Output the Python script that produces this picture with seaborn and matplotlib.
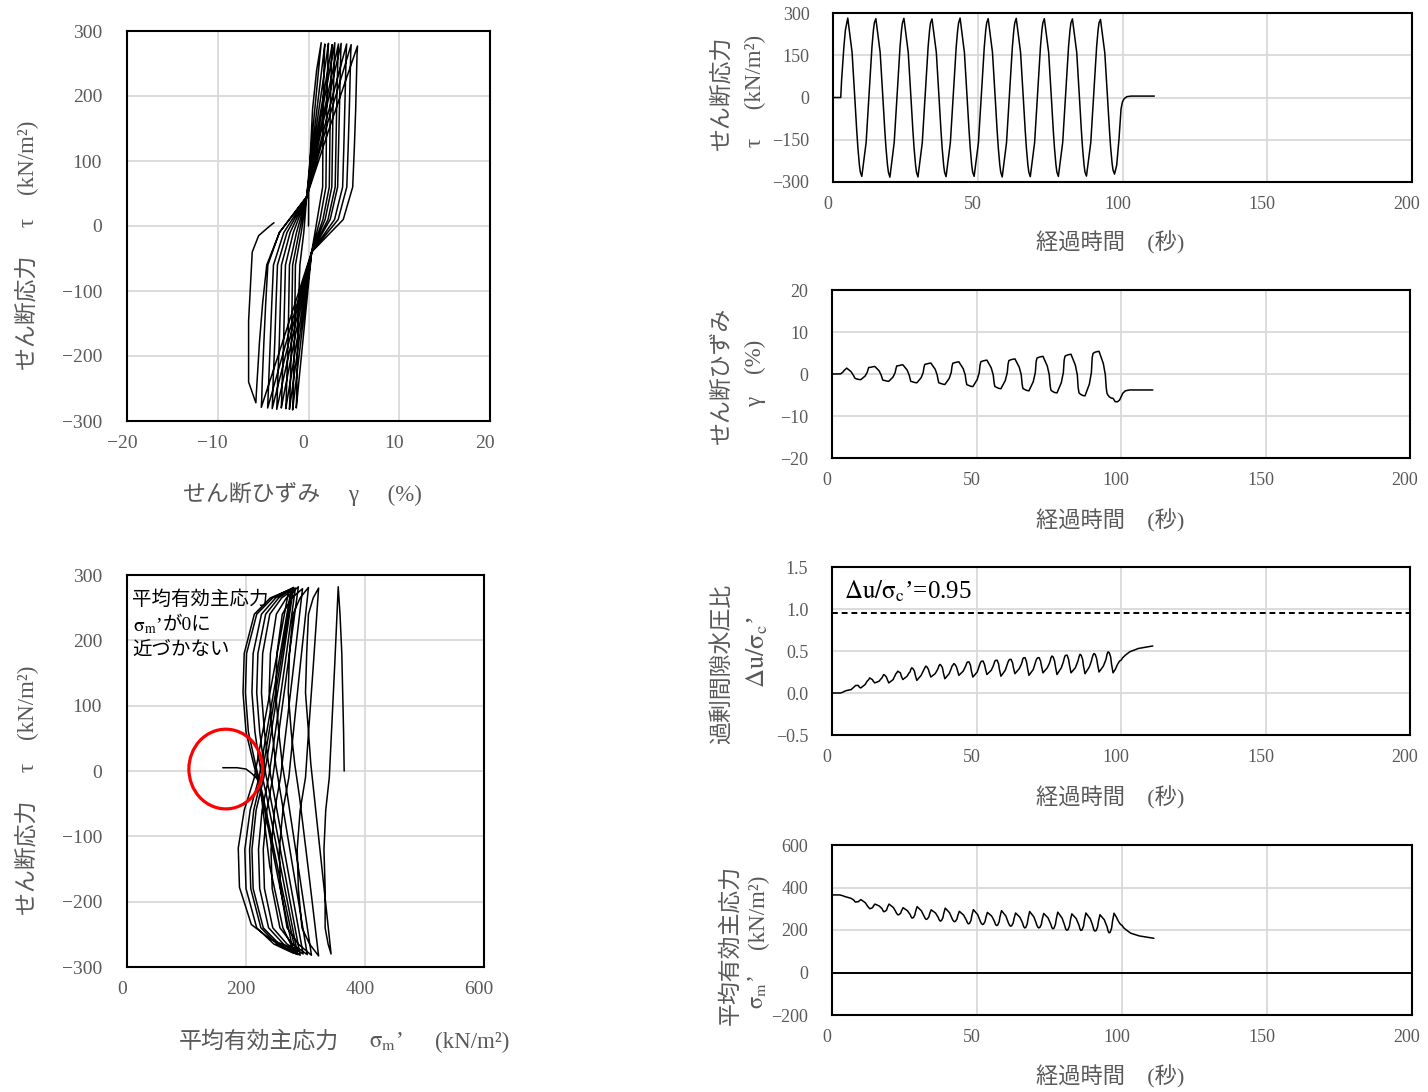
import matplotlib
matplotlib.use("Agg")
import matplotlib.pyplot as plt
from matplotlib.patches import Ellipse
from matplotlib.transforms import ScaledTranslation
import pandas as pd
import seaborn as sns

# ------------------------------------------------------------------
# Data (one sample list shared by all panels)
# ------------------------------------------------------------------
time_s = [
    0.00, 2.68, 2.96, 3.76, 4.29, 5.10,
    6.59, 7.28, 7.58, 7.86, 8.21, 8.61, 9.12, 9.44, 9.95,
    11.44, 12.15, 12.43, 12.71, 13.06, 13.46, 13.97, 14.29, 14.80,
    16.29, 16.98, 17.28, 17.56, 17.91, 18.31, 18.82, 19.14, 19.65,
    21.14, 21.85, 22.13, 22.41, 22.76, 23.16, 23.67, 23.99, 24.50,
    25.99, 26.68, 26.98, 27.26, 27.61, 28.01, 28.52, 28.84, 29.35,
    30.84, 31.55, 31.83, 32.11, 32.46, 32.86, 33.37, 33.69, 34.20,
    35.69, 36.38, 36.68, 36.96, 37.31, 37.71, 38.22, 38.54, 39.05,
    40.54, 41.25, 41.53, 41.81, 42.16, 42.56, 43.07, 43.39, 43.90,
    45.39, 46.08, 46.38, 46.66, 47.01, 47.41, 47.92, 48.24, 48.75,
    50.24, 50.95, 51.23, 51.51, 51.86, 52.26, 52.77, 53.09, 53.60,
    55.09, 55.78, 56.08, 56.36, 56.71, 57.11, 57.62, 57.94, 58.45,
    59.94, 60.65, 60.93, 61.21, 61.56, 61.96, 62.47, 62.79, 63.30,
    64.79, 65.48, 65.78, 66.06, 66.41, 66.81, 67.32, 67.64, 68.15,
    69.64, 70.35, 70.63, 70.91, 71.26, 71.66, 72.17, 72.49, 73.00,
    74.49, 75.18, 75.48, 75.76, 76.11, 76.51, 77.02, 77.34, 77.85,
    79.34, 80.05, 80.33, 80.61, 80.96, 81.36, 81.87, 82.19, 82.70,
    84.19, 84.88, 85.18, 85.46, 85.81, 86.21, 86.72, 87.04, 87.55,
    89.04, 89.75, 90.03, 90.31, 90.66, 91.06, 91.57, 91.89, 92.40,
    93.89, 94.58, 94.88, 95.16, 95.51, 95.91, 96.42, 96.74, 97.25,
    98.00, 98.80, 99.50, 100.00, 100.60, 101.50, 103.00, 106.00, 111.00,
]

# shear stress tau (kN/m2)
tau = [
    0, 0, 60, 180, 240, 282,
    160, 45, -10, -60, -120, -180, -240, -265, -280,
    -160, -40, 10, 60, 120, 180, 240, 265, 280,
    160, 45, -10, -60, -120, -180, -240, -265, -283,
    -160, -40, 10, 60, 120, 180, 240, 265, 281,
    160, 45, -10, -60, -120, -180, -240, -265, -282,
    -160, -40, 10, 60, 120, 180, 240, 265, 279,
    160, 45, -10, -60, -120, -180, -240, -265, -281,
    -160, -40, 10, 60, 120, 180, 240, 265, 282,
    160, 45, -10, -60, -120, -180, -240, -265, -280,
    -160, -40, 10, 60, 120, 180, 240, 265, 280,
    160, 45, -10, -60, -120, -180, -240, -265, -282,
    -160, -40, 10, 60, 120, 180, 240, 265, 281,
    160, 45, -10, -60, -120, -180, -240, -265, -281,
    -160, -40, 10, 60, 120, 180, 240, 265, 280,
    160, 45, -10, -60, -120, -180, -240, -265, -280,
    -160, -40, 10, 60, 120, 180, 240, 265, 279,
    160, 45, -10, -60, -120, -180, -240, -265, -279,
    -160, -40, 10, 60, 120, 180, 240, 265, 277,
    158, 45, -10, -60, -118, -178, -235, -258, -272,
    -240, -146, -40, -15, -4, 3, 5, 5, 5,
]

# shear strain gamma (%)
gamma = [
    0.0, 0.0, 0.02, 0.45, 0.9, 1.4,
    0.56, -0.2, -0.52, -0.95, -1.1, -1.2, -1.27, -1.31, -1.35,
    -0.5, 0.35, 0.95, 1.56, 1.58, 1.6, 1.7, 1.75, 1.8,
    0.76, -0.2, -0.8, -1.44, -1.5, -1.55, -1.65, -1.7, -1.75,
    -0.7, 0.35, 1.27, 1.92, 1.96, 2.0, 2.1, 2.15, 2.2,
    0.95, -0.2, -1.04, -1.75, -1.82, -1.88, -2.0, -2.05, -2.1,
    -0.88, 0.35, 1.59, 2.29, 2.35, 2.4, 2.5, 2.55, 2.6,
    1.14, -0.2, -1.32, -2.1, -2.18, -2.25, -2.4, -2.45, -2.5,
    -1.08, 0.35, 1.83, 2.57, 2.64, 2.7, 2.8, 2.85, 2.9,
    1.28, -0.2, -1.67, -2.54, -2.65, -2.75, -2.9, -2.95, -3.0,
    -1.33, 0.35, 2.15, 2.94, 3.02, 3.1, 3.2, 3.25, 3.3,
    1.47, -0.2, -2.02, -2.98, -3.1, -3.22, -3.4, -3.45, -3.5,
    -1.58, 0.35, 2.39, 3.21, 3.31, 3.4, 3.5, 3.55, 3.6,
    1.62, -0.2, -2.37, -3.42, -3.58, -3.72, -3.9, -3.95, -4.0,
    -1.83, 0.35, 2.87, 3.76, 3.89, 4.0, 4.1, 4.15, 4.2,
    1.90, -0.2, -2.72, -3.86, -4.05, -4.22, -4.4, -4.45, -4.5,
    -2.08, 0.35, 3.27, 4.22, 4.37, 4.5, 4.6, 4.65, 4.7,
    2.14, -0.2, -3.21, -4.48, -4.72, -4.92, -5.1, -5.15, -5.2,
    -2.43, 0.35, 3.83, 4.87, 5.05, 5.2, 5.3, 5.35, 5.4,
    2.48, -0.2, -3.2, -4.6, -5.05, -5.4, -5.65, -5.75, -5.8,
    -6.6, -6.6, -6.2, -5.5, -4.6, -4.0, -3.8, -3.8, -3.8,
]

# mean effective principal stress sigma_m' (kN/m2)
sigma_m = [
    365, 365, 364, 361, 358, 355,
    349, 343, 340, 334, 331, 333, 333, 338, 343,
    329, 315, 309, 305, 300, 302, 305, 313, 322,
    313, 304, 300, 291, 286, 288, 294, 307, 322,
    306, 290, 282, 276, 271, 273, 279, 291, 305,
    291, 278, 272, 262, 256, 258, 269, 288, 310,
    290, 270, 261, 255, 250, 252, 261, 277, 295,
    280, 265, 258, 248, 242, 244, 257, 278, 303,
    281, 259, 250, 244, 239, 241, 251, 268, 288,
    270, 253, 245, 235, 229, 231, 245, 269, 296,
    272, 248, 238, 231, 226, 228, 240, 260, 283,
    265, 247, 238, 227, 221, 223, 238, 263, 291,
    266, 241, 230, 223, 218, 220, 233, 255, 280,
    260, 240, 230, 217, 210, 212, 229, 256, 287,
    261, 235, 223, 215, 210, 212, 226, 250, 278,
    257, 236, 226, 213, 206, 208, 225, 252, 284,
    256, 229, 216, 204, 199, 201, 218, 245, 276,
    254, 232, 222, 207, 198, 200, 218, 247, 280,
    253, 227, 213, 200, 195, 197, 214, 241, 272,
    248, 225, 214, 197, 187, 189, 209, 242, 279,
    262, 240, 226, 222, 210, 200, 185, 172, 161,
]

# excess pore water pressure ratio du/sigma_c'
du_ratio = [
    0.00, 0.00, 0.00, 0.01, 0.02, 0.03,
    0.04, 0.06, 0.07, 0.08, 0.09, 0.09, 0.09, 0.07, 0.06,
    0.10, 0.14, 0.15, 0.16, 0.18, 0.17, 0.16, 0.14, 0.12,
    0.14, 0.17, 0.18, 0.20, 0.22, 0.21, 0.19, 0.16, 0.12,
    0.16, 0.21, 0.23, 0.24, 0.26, 0.25, 0.24, 0.20, 0.16,
    0.20, 0.24, 0.25, 0.28, 0.30, 0.29, 0.26, 0.21, 0.15,
    0.21, 0.26, 0.28, 0.30, 0.32, 0.31, 0.28, 0.24, 0.19,
    0.23, 0.27, 0.29, 0.32, 0.34, 0.33, 0.30, 0.24, 0.17,
    0.23, 0.29, 0.32, 0.33, 0.35, 0.34, 0.31, 0.27, 0.21,
    0.26, 0.31, 0.33, 0.36, 0.37, 0.37, 0.33, 0.26, 0.19,
    0.25, 0.32, 0.35, 0.37, 0.38, 0.38, 0.34, 0.29, 0.22,
    0.27, 0.32, 0.35, 0.38, 0.39, 0.39, 0.35, 0.28, 0.20,
    0.27, 0.34, 0.37, 0.39, 0.40, 0.40, 0.36, 0.30, 0.23,
    0.29, 0.34, 0.37, 0.41, 0.42, 0.42, 0.37, 0.30, 0.21,
    0.28, 0.36, 0.39, 0.41, 0.42, 0.42, 0.38, 0.32, 0.24,
    0.30, 0.35, 0.38, 0.42, 0.44, 0.43, 0.38, 0.31, 0.22,
    0.30, 0.37, 0.41, 0.44, 0.45, 0.45, 0.40, 0.33, 0.24,
    0.30, 0.36, 0.39, 0.43, 0.46, 0.45, 0.40, 0.32, 0.23,
    0.31, 0.38, 0.42, 0.45, 0.47, 0.46, 0.41, 0.34, 0.25,
    0.32, 0.38, 0.41, 0.46, 0.49, 0.48, 0.43, 0.34, 0.24,
    0.28, 0.34, 0.38, 0.39, 0.42, 0.45, 0.49, 0.53, 0.56,
]

du_limit = 0.95  # dashed reference line

# tick values / labels
strain_ticks = [-20, -10, 0, 10, 20]
strain_tick_labels = ["−20", "−10", "0", "10", "20"]
stress_ticks = [-300, -200, -100, 0, 100, 200, 300]
stress_tick_labels = ["−300", "−200", "−100", "0", "100", "200", "300"]
sigma_ticks = [0, 200, 400, 600]
sigma_tick_labels = ["0", "200", "400", "600"]
time_ticks = [0, 50, 100, 150, 200]
time_tick_labels = ["0", "50", "100", "150", "200"]
tau_t_ticks = [-300, -150, 0, 150, 300]
tau_t_tick_labels = ["−300", "−150", "0", "150", "300"]
gam_t_ticks = [-20, -10, 0, 10, 20]
gam_t_tick_labels = ["−20", "−10", "0", "10", "20"]
du_ticks = [-0.5, 0.0, 0.5, 1.0, 1.5]
du_tick_labels = ["−0.5", "0.0", "0.5", "1.0", "1.5"]
sm_ticks = [-200, 0, 200, 400, 600]
sm_tick_labels = ["−200", "0", "200", "400", "600"]

df = pd.DataFrame({"t": time_s, "tau": tau, "gamma": gamma,
                   "sigma": sigma_m, "du": du_ratio})

# ------------------------------------------------------------------
# Style
# ------------------------------------------------------------------
sns.set_style("white")
plt.rcParams["font.family"] = ["Liberation Serif", "Noto Sans CJK JP"]
plt.rcParams["mathtext.fontset"] = "stix"
plt.rcParams["axes.unicode_minus"] = True

GRID = "#d9d9d9"
TXT = "#595959"
W, H = 1428, 1092

fig = plt.figure(figsize=(W / 100, H / 100), dpi=100)


def rect(l, t, r, b):
    return [l / W, 1 - b / H, (r - l) / W, (b - t) / H]


def ftext(x, y, s, **kw):
    fig.text(x / W, 1 - y / H, s, **kw)


def style(ax, xlim, xt, xtl, ylim, yt, ytl, fs, ypad, xpad=6):
    ax.set_xlim(xlim)
    ax.set_ylim(ylim)
    ax.set_xticks(xt, xtl)
    ax.set_yticks(yt, ytl)
    ax.grid(True, color=GRID, lw=1.3)
    ax.set_axisbelow(True)
    for sp in ax.spines.values():
        sp.set_color("black")
        sp.set_linewidth(1.5)
        sp.set_visible(True)
    ax.tick_params(axis="both", direction="out", length=4, width=1,
                   color="black", labelcolor=TXT, labelsize=fs)
    ax.tick_params(axis="y", pad=ypad)
    ax.tick_params(axis="x", pad=xpad)
    off = ScaledTranslation(-5 / 100, 0, fig.dpi_scale_trans)
    for lab in ax.get_xticklabels():
        lab.set_transform(lab.get_transform() + off)
    ax.set_xlabel("")
    ax.set_ylabel("")


axA = fig.add_axes(rect(127, 31, 490, 421))
axB = fig.add_axes(rect(127, 575, 484, 967))
axC = fig.add_axes(rect(833, 13, 1412, 182))
axD = fig.add_axes(rect(832, 290, 1410, 458))
axE = fig.add_axes(rect(832, 567, 1410, 735))
axF = fig.add_axes(rect(832, 845, 1412, 1015))

LW = 1.1
# --- left: tau - gamma loops
sns.lineplot(data=df, x="gamma", y="tau", sort=False, estimator=None,
             color="black", linewidth=LW, ax=axA)
style(axA, (-20, 20), strain_ticks, strain_tick_labels,
      (-300, 300), stress_ticks, stress_tick_labels, 14, 14)

# --- left: tau - sigma_m' loops
sns.lineplot(data=df, x="sigma", y="tau", sort=False, estimator=None,
             color="black", linewidth=LW, ax=axB)
style(axB, (0, 600), sigma_ticks, sigma_tick_labels,
      (-300, 300), stress_ticks, stress_tick_labels, 14, 14)
axB.add_patch(Ellipse((166, 3), width=124, height=122, fill=False,
                      edgecolor="red", linewidth=2.3, zorder=5))

SIGM = "$\\mathrm{\\sigma_m}$’"
NOTE = dict(color="black", fontsize=14, ha="left", va="center")
ftext(132, 600, "平均有効主応力", **NOTE)
ftext(133, 626, SIGM, **NOTE)
ftext(163, 626, "が0に", **NOTE)
ftext(132, 650, "近づかない", **NOTE)

# --- right: time histories
sns.lineplot(data=df, x="t", y="tau", sort=False, estimator=None,
             color="black", linewidth=LW, ax=axC)
style(axC, (0, 200), time_ticks, time_tick_labels,
      (-300, 300), tau_t_ticks, tau_t_tick_labels, 13, 13)

sns.lineplot(data=df, x="t", y="gamma", sort=False, estimator=None,
             color="black", linewidth=LW, ax=axD)
style(axD, (0, 200), time_ticks, time_tick_labels,
      (-20, 20), gam_t_ticks, gam_t_tick_labels, 13, 13)

sns.lineplot(data=df, x="t", y="du", sort=False, estimator=None,
             color="black", linewidth=LW, ax=axE)
style(axE, (0, 200), time_ticks, time_tick_labels,
      (-0.5, 1.5), du_ticks, du_tick_labels, 13, 13)
axE.axhline(du_limit, color="black", lw=1.4, ls=(0, (3, 2)), zorder=3)
axE.text(4, 1.21, "$\\Delta\\mathrm{u/\\sigma_c}$’=0.95", ha="left",
         va="center", fontsize=18, color="black")

sns.lineplot(data=df, x="t", y="sigma", sort=False, estimator=None,
             color="black", linewidth=LW, ax=axF)
style(axF, (0, 200), time_ticks, time_tick_labels,
      (-200, 600), sm_ticks, sm_tick_labels, 13, 13)
axF.axhline(0, color="black", lw=1.4, zorder=3)

# ------------------------------------------------------------------
# Axis titles (placed in pixels to follow the reference layout)
# ------------------------------------------------------------------
LAB = dict(color=TXT, fontsize=16.5, ha="center", va="center")
VLAB = dict(LAB, rotation=90)

ftext(302, 494, "せん断ひずみ\u3000 γ\u3000 (%)", **LAB)
ftext(27, 245, "せん断応力\u3000 τ\u3000(kN/m²)", **VLAB)
ftext(259, 1042, "平均有効主応力", **LAB)
ftext(386, 1042, SIGM, **LAB)
ftext(472, 1042, "(kN/m²)", **LAB)
ftext(27, 790, "せん断応力\u3000 τ\u3000(kN/m²)", **VLAB)

ftext(722, 93, "せん断応力", **VLAB)
ftext(755, 91, "τ\u3000 (kN/m²)", **VLAB)
ftext(722, 375, "せん断ひずみ", **VLAB)
ftext(755, 373, "γ\u3000(%)", **VLAB)
ftext(722, 664, "過剰間隙水圧比", **VLAB)
ftext(757, 652, "$\\Delta\\mathrm{u/\\sigma_c}$’", **dict(VLAB, fontsize=19))
ftext(730, 945, "平均有効主応力", **VLAB)
ftext(758, 992, SIGM, **VLAB)
ftext(758, 912, "(kN/m²)", **VLAB)

for yy in (243, 521, 798, 1077):
    ftext(1110, yy, "経過時間\u3000(秒)", color=TXT, fontsize=16,
          ha="center", va="center")

fig.savefig("out.png", dpi=100)
